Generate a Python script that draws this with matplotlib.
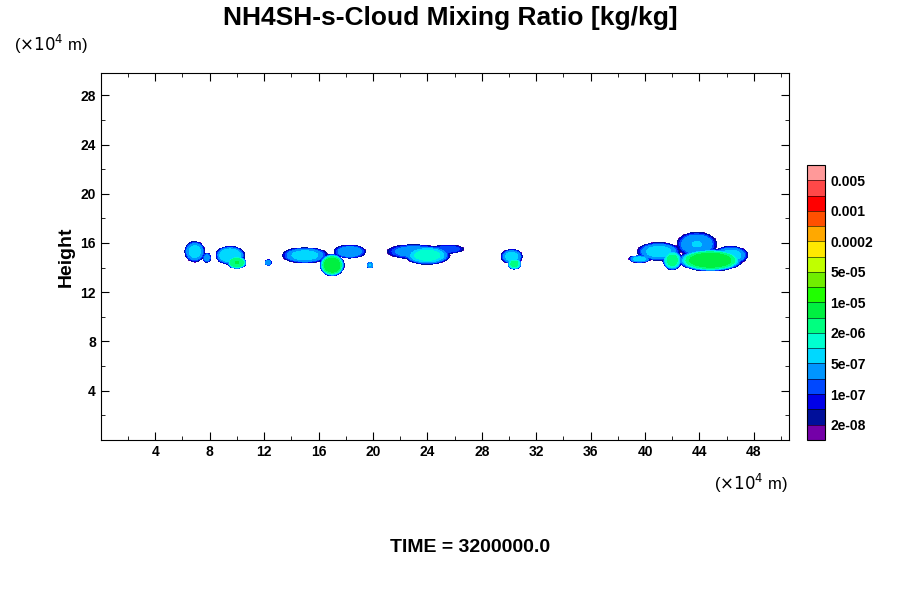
import numpy as np
import matplotlib
matplotlib.use("Agg")
import matplotlib.pyplot as plt
from matplotlib.colors import ListedColormap, BoundaryNorm
from matplotlib.ticker import MultipleLocator
import matplotlib.colorbar as mcb

plt.rcParams['font.family'] = ['Liberation Sans', 'DejaVu Sans']

levels = [1e-8, 2e-8, 5e-8, 1e-7, 2e-7, 5e-7, 1e-6, 2e-6, 5e-6, 1e-5, 2e-5,
          5e-5, 1e-4, 2e-4, 5e-4, 1e-3, 2e-3, 5e-3, 1e-2]
colors = ["#7400a8", "#000f9a", "#0000e8", "#0048ff", "#0095ff", "#00d8ff",
          "#00ffd0", "#00ff80", "#00f040", "#20ff00", "#70ee00", "#c0ff00",
          "#ffe800", "#ffa800", "#ff5000", "#ff0000", "#ff4848", "#ff9999"]
cb_labels = ["2e-08", "1e-07", "5e-07", "2e-06", "1e-05", "5e-05", "0.0002", "0.001", "0.005"]
cb_label_vals = [2e-8, 1e-7, 5e-7, 2e-6, 1e-5, 5e-5, 2e-4, 1e-3, 5e-3]

# cloud blobs: x centre, z centre, x half-width, z half-width, log10 peak (units 1e4 m)
blob_x = [6.9, 7.8, 9.5, 10.0, 12.3, 15.0, 17.0, 18.3, 19.8, 23.0, 24.0, 25.5, 30.2, 30.4,
          39.6, 41.0, 42.0, 43.8, 44.8, 46.3]
blob_z = [15.3, 14.8, 15.0, 14.4, 14.4, 15.0, 14.2, 15.3, 14.2, 15.3, 15.0, 15.5, 14.9, 14.3,
          14.7, 15.3, 14.6, 15.9, 14.6, 15.0]
blob_sx = [0.75, 0.3, 1.1, 0.7, 0.25, 1.7, 0.9, 1.2, 0.25, 2.0, 1.7, 1.2, 0.8, 0.5,
           0.8, 1.6, 0.7, 1.5, 2.4, 1.3]
blob_sz = [0.85, 0.4, 0.75, 0.5, 0.25, 0.65, 0.9, 0.55, 0.25, 0.6, 0.75, 0.35, 0.6, 0.45,
           0.3, 0.75, 0.8, 1.0, 0.9, 0.75]
blob_peak = [-6.2, -6.6, -6.0, -5.3, -6.4, -6.2, -5.0, -6.4, -6.3, -6.5, -5.9, -6.8, -6.2, -5.6,
             -6.2, -6.2, -5.6, -6.3, -5.0, -6.2]

x = np.linspace(0, 50.6, 700)
z = np.linspace(0, 29.8, 500)
X, Z = np.meshgrid(x, z)
L = np.full_like(X, -12.0)
for bx, bz, sx, sz, p in zip(blob_x, blob_z, blob_sx, blob_sz, blob_peak):
    r2 = ((X - bx) / sx) ** 2 + ((Z - bz) / sz) ** 2
    L = np.maximum(L, p - (p + 8.0) * r2 ** 2.5)
F = 10.0 ** L
F = np.where(F < 1e-8, np.nan, F)

cmap = ListedColormap(colors)
norm = BoundaryNorm(levels, cmap.N)

fig = plt.figure(figsize=(9, 6), dpi=100)
ax = fig.add_axes([0.112, 0.267, 0.765, 0.611])
ax.contourf(X, Z, F, levels=levels, cmap=cmap, norm=norm)
ax.set_xlim(0, 50.6)
ax.set_ylim(0, 29.8)
ax.set_xticks(range(4, 49, 4))
ax.set_yticks(range(4, 29, 4))
ax.xaxis.set_minor_locator(MultipleLocator(2))
ax.yaxis.set_minor_locator(MultipleLocator(2))
ax.tick_params(which="both", direction="in", top=True, right=True, labelsize=10)
ax.tick_params(which="major", length=6)
ax.tick_params(which="minor", length=3)
for lab in ax.get_xticklabels() + ax.get_yticklabels():
    lab.set_fontweight("bold")
ax.set_ylabel("Height", fontsize=14, fontweight="bold")
fig.text(0.5, 0.99, "NH4SH-s-Cloud Mixing Ratio [kg/kg]", ha="center", va="top",
         fontsize=19, fontweight="bold")
fig.text(0.015, 0.915, r"($\times10^4$ m)", fontsize=12)
fig.text(0.793, 0.183, r"($\times10^4$ m)", fontsize=12)
fig.text(0.522, 0.08, "TIME = 3200000.0", ha="center", fontsize=14, fontweight="bold")

cax = fig.add_axes([0.897, 0.267, 0.02, 0.458])
cb = mcb.ColorbarBase(cax, cmap=cmap, norm=norm, boundaries=levels, spacing="uniform",
                      drawedges=True)
cb.set_ticks(cb_label_vals)
cb.set_ticklabels(cb_labels)
cb.ax.tick_params(length=0, labelsize=10)
cb.minorticks_off()
for lab in cb.ax.get_yticklabels():
    lab.set_fontweight("bold")
fig.savefig("out.png", dpi=100)
